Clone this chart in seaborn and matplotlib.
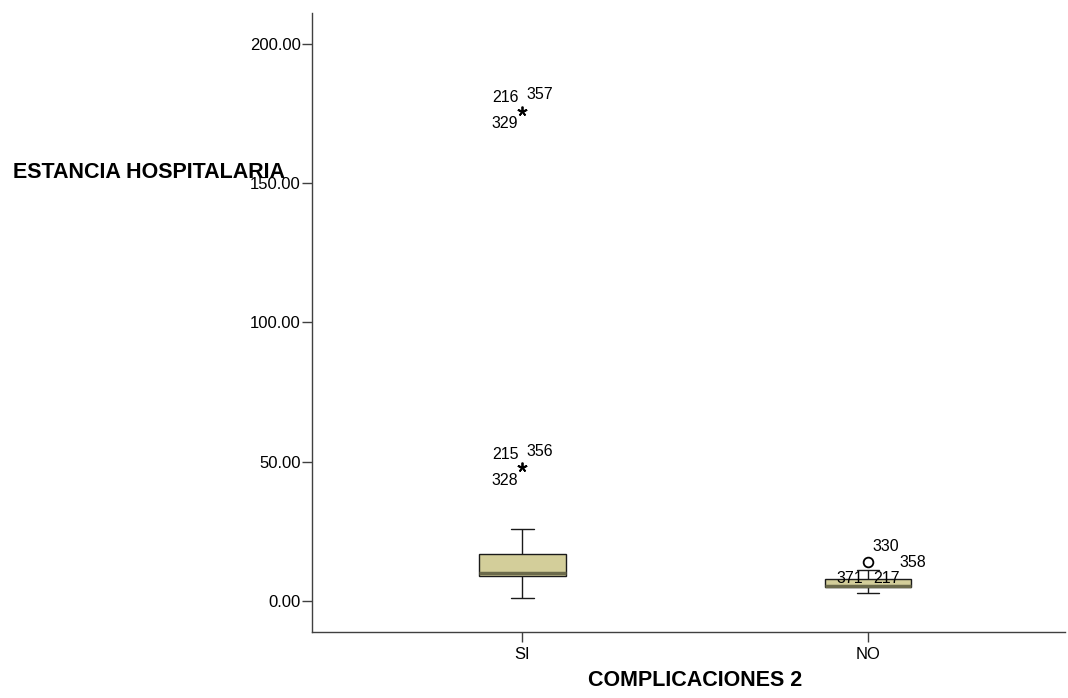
import numpy as np
import pandas as pd
import matplotlib
matplotlib.use("Agg")
import matplotlib.pyplot as plt
import seaborn as sns

# ---- data ----
groups = ["SI", "NO"]
# five-number summaries: lower whisker, Q1, median, Q3, upper whisker
si_summary = [1, 9, 10, 17, 26]
no_summary = [3, 5, 5.5, 8, 11]

outlier_groups = ["SI", "SI", "NO"]
outlier_values = [48, 176, 14]
outlier_kinds = ["extreme", "extreme", "outlier"]
outlier_ids = [["215", "356", "328"], ["216", "357", "329"], ["330", "358", "371", "217"]]

yticks = [0, 50, 100, 150, 200]
ylabel = "ESTANCIA HOSPITALARIA"
xlabel = "COMPLICACIONES 2"

sns.set_style("white")
plt.rcParams["font.family"] = ["Liberation Sans", "DejaVu Sans"]
plt.rcParams["text.color"] = "black"

df = pd.DataFrame({
    "grupo": ["SI"] * len(si_summary) + ["NO"] * len(no_summary),
    "valor": si_summary + no_summary,
})

fig = plt.figure(figsize=(10.68, 6.98), dpi=100)
ax = fig.add_axes([312 / 1068, 1 - 632 / 698, (1065 - 312) / 1068, (632 - 13) / 698])

sns.boxplot(data=df, x="grupo", y="valor", order=groups, ax=ax,
            width=0.25, color="#d3ce9a", saturation=1, whis=np.inf,
            linecolor="#1a1a1a", linewidth=1, fliersize=0,
            medianprops=dict(color="#6b6a4b", linewidth=2.5))

# narrower whisker caps like the reference
cap_half = 0.032
for c in ax.containers:
    for cap in getattr(c, "caps", []):
        xd = np.asarray(cap.get_xdata(), dtype=float)
        mid = xd.mean()
        cap.set_xdata([mid - cap_half, mid + cap_half])

# outliers and their case labels
star_layout = [(-4, 13, "right"), (4, 16, "left"), (-4, -13, "right")]
circle_layout = [(4, 16, "left"), (31, 0, "left"), (-5, -16, "right"), (5, -16, "left")]
for g, v, k, ids in zip(outlier_groups, outlier_values, outlier_kinds, outlier_ids):
    pos = groups.index(g)
    if k == "extreme":
        ax.plot([pos], [v], marker=(5, 2, 0), markersize=7, color="black",
                markeredgewidth=1.3, linestyle="none", zorder=5)
        layout = star_layout
    else:
        ax.plot([pos], [v], marker="o", markersize=7, markerfacecolor="white",
                markeredgecolor="black", markeredgewidth=1.3, linestyle="none", zorder=5)
        layout = circle_layout
    for lab, (dx, dy, ha) in zip(ids, layout):
        ax.annotate(lab, (pos, v), xytext=(dx, dy), textcoords="offset pixels",
                    ha=ha, va="center", fontsize=11.5, color="black", zorder=6)

ax.set_xlim(-0.609, 1.570)
ax.set_ylim(-11.1, 211.1)
ax.set_yticks(yticks)
ax.set_yticklabels([f"{t:.2f}" for t in yticks])
ax.set_xlabel("")
ax.set_ylabel("")

for s in ["top", "right"]:
    ax.spines[s].set_visible(False)
for s in ["left", "bottom"]:
    ax.spines[s].set_color("#404040")
    ax.spines[s].set_linewidth(1)
ax.tick_params(axis="both", length=7, width=1, color="#404040", labelsize=12,
               labelcolor="black", left=True, bottom=True)
ax.tick_params(axis="y", pad=1)
ax.tick_params(axis="x", pad=4)

fig.text(12.7 / 1068, 1 - 172 / 698, ylabel, ha="left", va="center",
         fontsize=15.5, fontweight="bold", color="black")
fig.text(695 / 1068, 1 - 681 / 698, xlabel, ha="center", va="center",
         fontsize=15.5, fontweight="bold", color="black")

fig.savefig("out.png", dpi=100)
